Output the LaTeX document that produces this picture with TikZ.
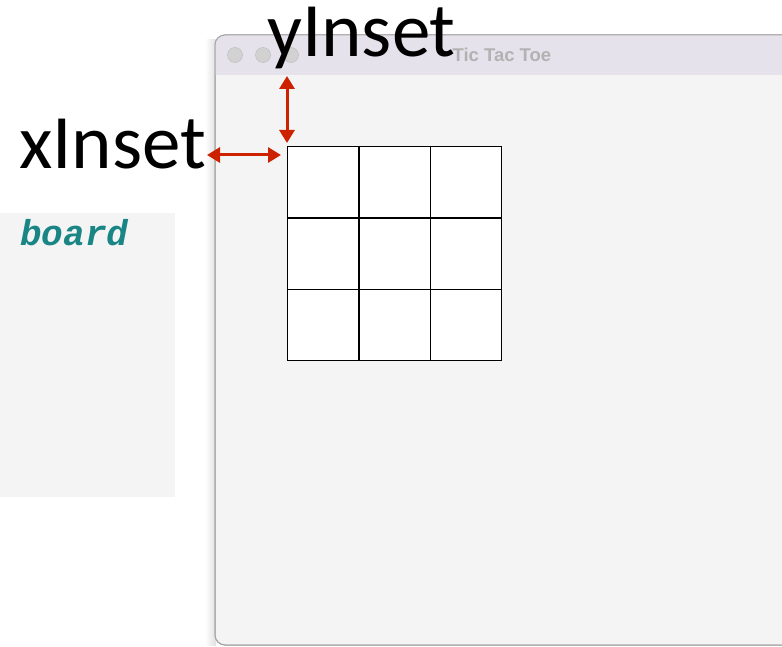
\documentclass[tikz,border=0pt]{standalone}
\usepackage{fontspec}
\setmainfont{Carlito}
\newfontfamily\titlefont{Liberation Sans}
\newfontfamily\codefont{Liberation Mono}
\usepackage{xcolor}
\usetikzlibrary{positioning,arrows.meta,calc}
\definecolor{winbg}{HTML}{F4F4F4}
\definecolor{titlebg}{HTML}{E6E2EC}
\definecolor{insetred}{HTML}{CC2200}
\definecolor{codeteal}{HTML}{1A8585}

\begin{document}
\begin{tikzpicture}[
  x=1pt, y=-1pt,
  window/.style={draw=gray!70, line width=1pt, fill=winbg, rounded corners=10pt},
  light/.style={circle, fill=gray!35, draw=gray!55, minimum size=15pt, inner sep=0pt},
  cell/.style={draw=black, line width=1.3pt, fill=white, minimum size=71.3pt, inner sep=0pt, anchor=north west},
  inset/.style={{Triangle[length=13pt,width=15pt]}-{Triangle[length=13pt,width=15pt]}, line width=3pt, draw=insetred},
  biglabel/.style={font=\fontsize{77}{77}\selectfont, text=black, inner sep=0pt}
]
\useasboundingbox (0,0) rectangle (782,647);
\fill[white] (0,0) rectangle (782,647);

% window
\shade[left color=white, right color=gray!25] (205,40) rectangle (216,645);
\draw[window] (215,35) rectangle (800,645);
\begin{scope}
  \clip[rounded corners=10pt] (215,35) rectangle (800,645);
  \fill[titlebg] (215,35) rectangle (800,75);
\end{scope}
\draw[window, fill=none] (215,35) rectangle (800,645);
\node[light] (red) at (235,55) {};
\node[light] (yellow) at (263,55) {};
\node[light] (green) at (291,55) {};
\node[font=\titlefont\bfseries\fontsize{18.5}{18.5}\selectfont, text=gray!60, anchor=west] (title) at (449,55) {Tic Tac Toe};

% board panel
\fill[winbg] (0,213) rectangle (175,497);
\node[font=\codefont\bfseries\itshape\fontsize{36}{36}\selectfont, text=codeteal, anchor=west, inner sep=0pt] (board) at (20,233) {board};

% grid
\foreach \r in {0,1,2} {
  \foreach \c in {0,1,2} {
    \node[cell] (c\r\c) at (287+71.3*\c, 146+71.3*\r) {};
  }
}

% labels
\node[biglabel, anchor=base west] (yinset) at (267,57) {yInset};
\node[biglabel, anchor=base west] (xinset) at (19,169) {xInset};

\coordinate (ytop) at (287,76);
\coordinate (ybot) at (287,143);
\coordinate (xleft) at (207,155);
\coordinate (xright) at (281,155);
\draw[inset] (ytop) -- (ybot);
\draw[inset] (xleft) -- (xright);
\end{tikzpicture}
\end{document}
